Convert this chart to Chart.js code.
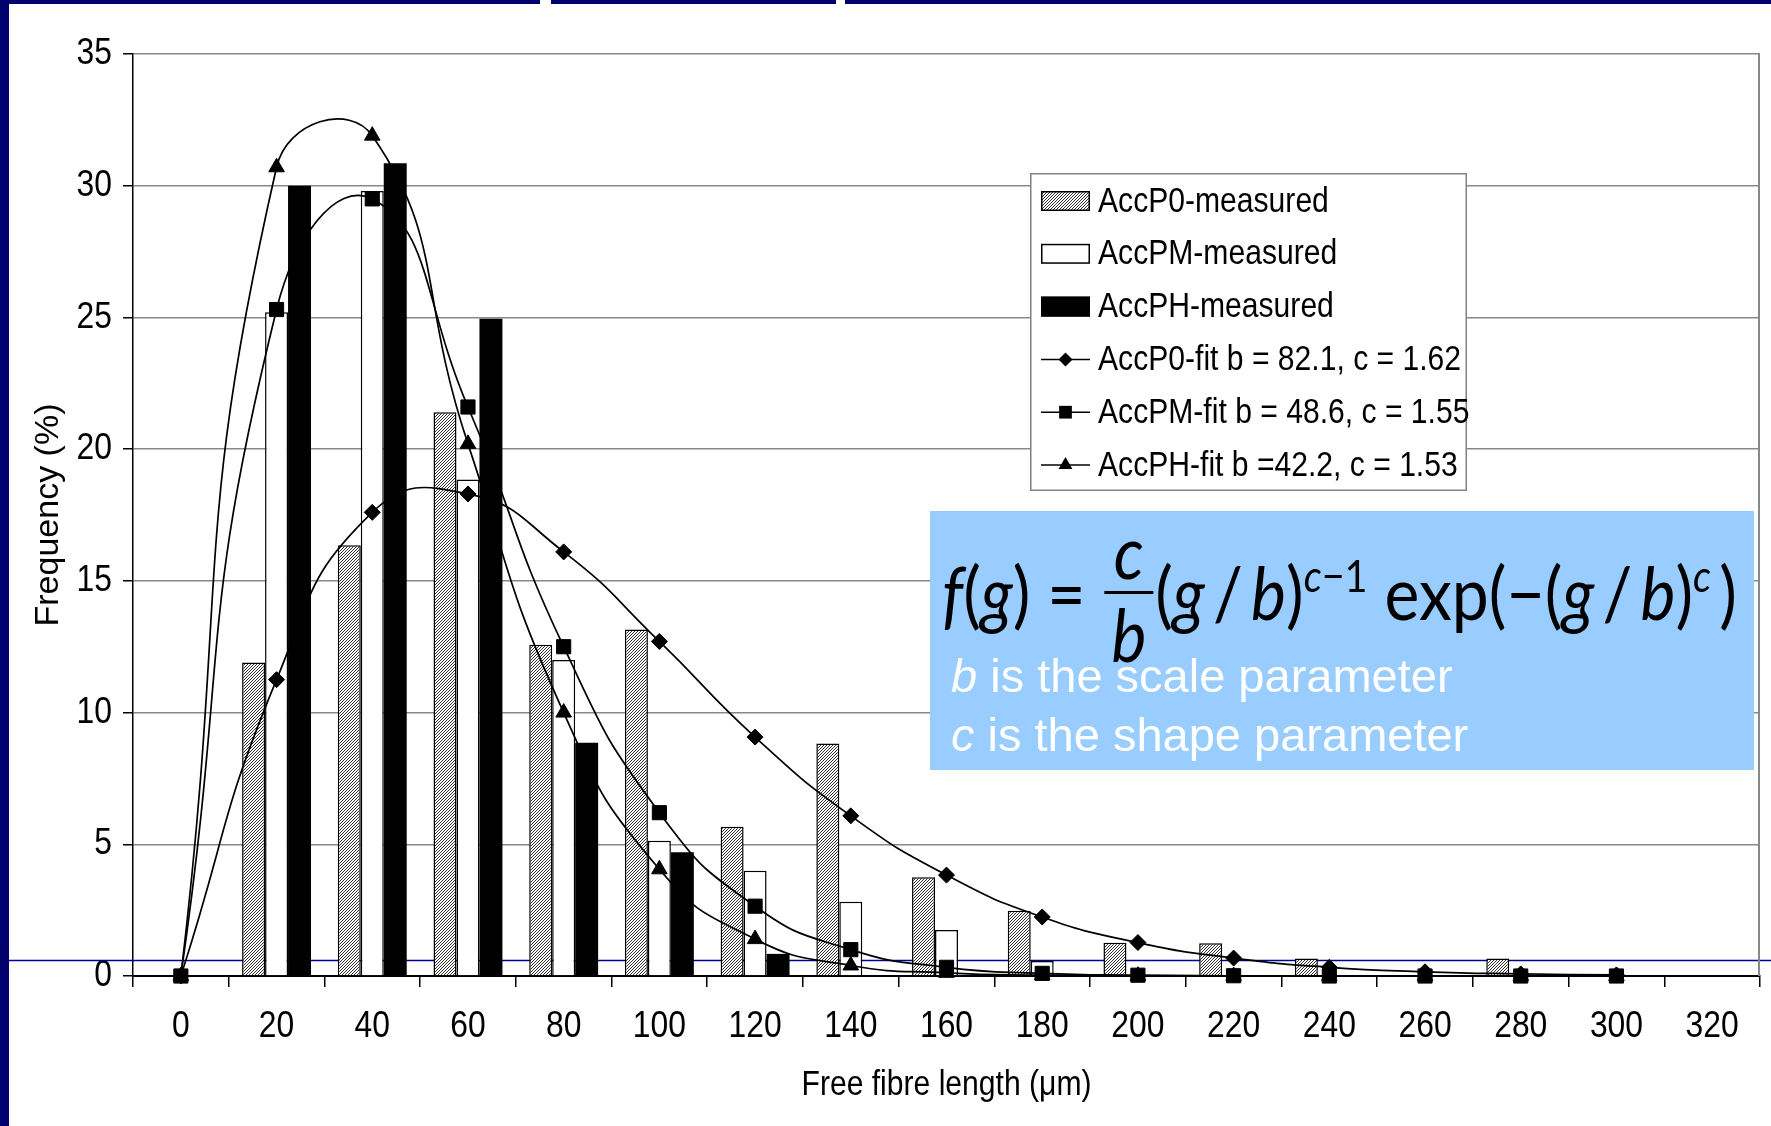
<!DOCTYPE html>
<html>
<head>
<meta charset="utf-8">
<script src="https://cdn.jsdelivr.net/npm/chart.js@4.4.1/dist/chart.umd.min.js"></script>
<style>
html,body{margin:0;padding:0;background:#fff;}
#wrap{position:relative;width:1771px;height:1126px;overflow:hidden;background:#fff;}
#c{position:absolute;left:0;top:0;width:1771px;height:1126px;}
.navy{position:absolute;background:#02026e;}
#fbox{position:absolute;left:930px;top:511px;width:824px;height:259px;background:#99ccff;}
#formula{position:absolute;left:12px;top:-4px;height:170px;display:flex;align-items:center;font-family:Lato,'Open Sans',sans-serif;font-size:74px;white-space:nowrap;color:#000;transform-origin:0 50%;line-height:1;}
.frac{display:inline-flex;flex-direction:column;align-items:center;margin:0 2px;}
.num{padding:0 8px 3px;}
.den{border-top:3px solid #000;padding:3px 8px 0;}
#formula sup{font-size:0.6em;vertical-align:0.62em;line-height:0;}
.ptxt{position:absolute;left:21px;font-family:'Liberation Sans',Arial,sans-serif;font-size:47px;line-height:47px;color:#fff;white-space:nowrap;}
</style>
</head>
<body>
<div id="wrap">
<canvas id="c" width="1771" height="1126"></canvas>
<div class="navy" style="left:0;top:0;width:9px;height:1126px"></div>
<div class="navy" style="left:0;top:0;width:540px;height:4px"></div>
<div class="navy" style="left:551px;top:0;width:285px;height:4px"></div>
<div class="navy" style="left:845px;top:0;width:926px;height:4px"></div>
<div id="fbox">
  <div id="formula"><span><i>f</i>(<i>g</i>)&nbsp;=&nbsp;</span><span class="frac"><i class="num">c</i><i class="den">b</i></span><span>(<i>g</i>&thinsp;/&thinsp;<i>b</i>)<sup><i>c</i>−1</sup>&nbsp;exp(−(<i>g</i>&thinsp;/&thinsp;<i>b</i>)<sup><i>c</i></sup>&thinsp;)</span></div>
  <div class="ptxt" style="top:141px"><i>b</i> is the scale parameter</div>
  <div class="ptxt" style="top:200px"><i>c</i> is the shape parameter</div>
</div>
</div>
<script>
// ---- data ----
const categories = ['0','20','40','60','80','100','120','140','160','180','200','220','240','260','280','300','320'];
const p0Measured = [null, 11.9, 16.35, 21.4, 12.57, 13.15, 5.67, 8.83, 3.75, 2.48, 1.26, 1.24, 0.66, null, 0.66, null, null];
const pmMeasured = [null, 25.2, 29.8, 18.85, 12.0, 5.13, 4.0, 2.82, 1.75, 0.57, null, null, null, null, null, null, null];
const phMeasured = [null, 30.0, 30.85, 24.95, 8.85, 4.7, 0.84, null, null, null, null, null, null, null, null, null, null];
const p0Fit = [0, 11.25, 17.6, 18.3, 16.1, 12.7, 9.07, 6.08, 3.83, 2.24, 1.27, 0.68, 0.33, 0.16, 0.08, 0.04, null];
const pmFit = [0, 25.3, 29.5, 21.6, 12.5, 6.2, 2.65, 1.0, 0.33, 0.1, 0.03, 0.01, 0, 0, 0, 0, null];
const phFit = [0, 30.7, 31.9, 20.2, 10.0, 4.05, 1.4, 0.4, 0.12, 0.03, 0.01, 0, 0, 0, 0, 0, null];
const seriesLabels = ['AccP0-measured','AccPM-measured','AccPH-measured','AccP0-fit b = 82.1, c = 1.62','AccPM-fit b = 48.6, c = 1.55','AccPH-fit b =42.2, c = 1.53'];
const yTicks = {min:0, max:35, step:5};
const xTitle = 'Free fibre length (\u03BCm)';
const yTitle = 'Frequency (%)';

const FONT = "'Liberation Sans',Arial,sans-serif";
const K = 0.86; // horizontal text condensation, as in the original picture

const canvas = document.getElementById('c');
const cctx = canvas.getContext('2d');
const origFill = cctx.fillText.bind(cctx);
const origMeasure = cctx.measureText.bind(cctx);
function isRotated(ctx){ const m = ctx.getTransform(); return Math.abs(m.b) > 1e-6; }
cctx.fillText = function(t, x, y, maxW){
  const k = isRotated(this) ? 1 : K;
  this.save(); this.translate(x, y); this.scale(k, 1);
  if (maxW !== undefined && maxW !== null) origFill(t, 0, 0, maxW / k); else origFill(t, 0, 0);
  this.restore();
};
cctx.measureText = function(t){
  const m = origMeasure(t);
  return {width: m.width * K, actualBoundingBoxAscent: m.actualBoundingBoxAscent, actualBoundingBoxDescent: m.actualBoundingBoxDescent,
          actualBoundingBoxLeft: m.actualBoundingBoxLeft * K, actualBoundingBoxRight: m.actualBoundingBoxRight * K};
};

function hatchPattern(){
  const c = document.createElement('canvas'); c.width = 3; c.height = 3;
  const x = c.getContext('2d');
  x.fillStyle = '#ffffff'; x.fillRect(0,0,3,3);
  x.strokeStyle = '#303030'; x.lineWidth = 1;
  x.beginPath();
  x.moveTo(0,3); x.lineTo(3,0);
  x.moveTo(-1,1); x.lineTo(1,-1);
  x.moveTo(2,4); x.lineTo(4,2);
  x.stroke();
  return cctx.createPattern(c,'repeat');
}
const hatch = hatchPattern();

function drawMarker(ctx, style, r, x, y){
  ctx.beginPath();
  if (style === 'rectRot'){
    ctx.moveTo(x - r, y); ctx.lineTo(x, y - r); ctx.lineTo(x + r, y); ctx.lineTo(x, y + r);
  } else if (style === 'rect'){
    const s = r * Math.SQRT1_2; ctx.rect(x - s, y - s, 2*s, 2*s);
  } else if (style === 'triangle'){
    ctx.moveTo(x, y - r); ctx.lineTo(x + r*0.866, y + r*0.5); ctx.lineTo(x - r*0.866, y + r*0.5);
  }
  ctx.closePath(); ctx.fill();
}

const decoPlugin = {
  id: 'deco',
  beforeDatasetsDraw(chart){
    const {ctx, chartArea:a} = chart;
    ctx.save();
    ctx.strokeStyle = '#000099'; ctx.lineWidth = 1.5;
    ctx.beginPath(); ctx.moveTo(0, 960.5); ctx.lineTo(chart.width, 960.5); ctx.stroke();
    ctx.strokeStyle = '#888888'; ctx.lineWidth = 2;
    ctx.beginPath(); ctx.moveTo(a.right - 1, a.top); ctx.lineTo(a.right - 1, a.bottom); ctx.stroke();
    ctx.restore();
  },
  afterDraw(chart){
    const ctx = chart.ctx;
    const L = {x:1030, y:173, w:437, h:318, row0:201, step:52.8, sx:1041, sw:49, tx:1098};
    ctx.save();
    ctx.fillStyle = '#fff'; ctx.fillRect(L.x, L.y, L.w, L.h);
    ctx.strokeStyle = '#808080'; ctx.lineWidth = 1.5;
    ctx.strokeRect(L.x + 0.75, L.y + 0.75, L.w - 1.5, L.h - 1.5);
    chart.data.datasets.forEach((ds, i) => {
      const cy = L.row0 + i * L.step;
      if (ds.type === 'bar'){
        ctx.fillStyle = ds.backgroundColor;
        ctx.fillRect(L.sx, cy - 10, L.sw, 20);
        ctx.strokeStyle = '#000'; ctx.lineWidth = 1.5;
        ctx.strokeRect(L.sx + 0.75, cy - 10 + 0.75, L.sw - 1.5, 18.5);
      } else {
        ctx.strokeStyle = '#000'; ctx.lineWidth = 1.5;
        ctx.beginPath(); ctx.moveTo(L.sx, cy); ctx.lineTo(L.sx + L.sw, cy); ctx.stroke();
        ctx.fillStyle = '#000';
        drawMarker(ctx, ds.pointStyle, ds.pointStyle === 'rectRot' ? 7 : (ds.pointStyle === 'rect' ? 9 : 8), L.sx + L.sw/2, cy);
      }
      ctx.fillStyle = '#000';
      ctx.font = '35px ' + FONT;
      ctx.textBaseline = 'middle'; ctx.textAlign = 'left';
      ctx.fillText(ds.label, L.tx, cy + 1);
    });
    ctx.restore();
  }
};

const barCommon = {type:'bar', order:4, categoryPercentage:0.72, barPercentage:1.0, borderSkipped:'start'};
const lineCommon = {type:'line', borderColor:'#000', borderWidth:1.7, tension:0.5, fill:false, clip:false,
  pointBackgroundColor:'#000', pointBorderColor:'#000', pointBorderWidth:1, pointHoverRadius:0};

new Chart(canvas, {
  type: 'bar',
  data: {
    labels: categories,
    datasets: [
      Object.assign({}, barCommon, {label:seriesLabels[0], data:p0Measured, backgroundColor:hatch, borderColor:'#000', borderWidth:1.5}),
      Object.assign({}, barCommon, {label:seriesLabels[1], data:pmMeasured, backgroundColor:'#fff', borderColor:'#000', borderWidth:1.5}),
      Object.assign({}, barCommon, {label:seriesLabels[2], data:phMeasured, backgroundColor:'#000', borderColor:'#000', borderWidth:0}),
      Object.assign({}, lineCommon, {label:seriesLabels[3], data:p0Fit, pointStyle:'rectRot', pointRadius:8, order:3}),
      Object.assign({}, lineCommon, {label:seriesLabels[4], data:pmFit, pointStyle:'rect', pointRadius:10, order:2}),
      Object.assign({}, lineCommon, {label:seriesLabels[5], data:phFit, pointStyle:'triangle', pointRadius:9, order:1})
    ]
  },
  options: {
    responsive: false,
    devicePixelRatio: 1,
    animation: false,
    layout: {padding: {left:0, right:5, top:54, bottom:0}},
    plugins: {legend:{display:false}, tooltip:{enabled:false}},
    scales: {
      x: {
        type:'category', offset:true,
        grid:{offset:true, drawOnChartArea:false, drawTicks:true, tickLength:11, color:'#000', lineWidth:1.5},
        border:{color:'#000', width:2},
        ticks:{font:{family:FONT, size:37}, color:'#000', padding:18, maxRotation:0, autoSkip:false},
        title:{display:true, text:xTitle, font:{family:FONT, size:35}, color:'#000', padding:{top:0, bottom:20}},
        afterFit(s){ s.height = 150; }
      },
      y: {
        min:yTicks.min, max:yTicks.max,
        ticks:{stepSize:yTicks.step, font:{family:FONT, size:37}, color:'#000', padding:11},
        grid:{color:'#888', lineWidth:1.5, tickLength:10, tickColor:'#000'},
        border:{color:'#000', width:1.5},
        title:{display:true, text:yTitle, font:{family:FONT, size:34}, color:'#000', padding:{top:28, bottom:0}},
        afterFit(s){ s.width = 133; }
      }
    }
  },
  plugins: [decoPlugin]
});

function fitFormula(){
  const f = document.getElementById('formula');
  f.style.transform = 'none';
  const w = f.getBoundingClientRect().width;
  f.style.transform = 'scaleX(' + (795 / w) + ')';
}
fitFormula();
if (document.fonts && document.fonts.ready) document.fonts.ready.then(fitFormula);
</script>
</body>
</html>
